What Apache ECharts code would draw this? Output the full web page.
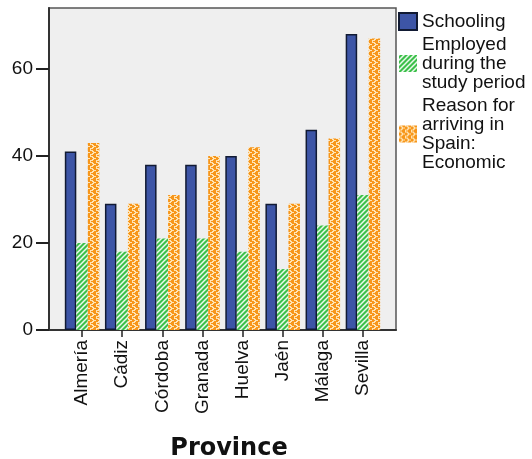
<!DOCTYPE html>
<html>
<head>
<meta charset="utf-8">
<script src="https://cdn.jsdelivr.net/npm/echarts@6/dist/echarts.min.js"></script>
<style>
  html, body { margin: 0; padding: 0; background: #ffffff; }
  #chart { width: 532px; height: 459px; }
</style>
</head>
<body>
<div id="chart"></div>
<script>
// Provinces on the category axis
var provinces = ['Almería', 'Cádiz', 'Córdoba', 'Granada', 'Huelva', 'Jaén', 'Málaga', 'Sevilla'];
// Series values
var schooling = [41, 29, 38, 38, 40, 29, 46, 68];
var employed = [20, 18, 21, 21, 18, 14, 24, 31];
var economic = [43, 29, 31, 40, 42, 29, 44, 67];
// Value axis ticks
var yTicks = [0, 20, 40, 60];
var yMax = 74;

var seriesNames = [
  'Schooling',
  'Employed\nduring the\nstudy period',
  'Reason for\narriving in\nSpain:\nEconomic'
];

// Hatched green fill: white diagonal stripes
function stripePattern() {
  var s = 5;
  var c = document.createElement('canvas');
  c.width = s; c.height = s;
  var g = c.getContext('2d');
  g.fillStyle = '#3cc04a';
  g.fillRect(0, 0, s, s);
  g.strokeStyle = 'rgba(255,255,255,0.9)';
  g.lineWidth = 1.5;
  g.beginPath();
  g.moveTo(-1, s + 1); g.lineTo(s + 1, -1);
  g.moveTo(-1, 1); g.lineTo(1, -1);
  g.moveTo(s - 1, s + 1); g.lineTo(s + 1, s - 1);
  g.stroke();
  return c;
}

// Orange fill with a light zigzag motif
function zigzagPattern() {
  var c = document.createElement('canvas');
  c.width = 6; c.height = 6;
  var g = c.getContext('2d');
  g.fillStyle = '#f7961a';
  g.fillRect(0, 0, 6, 6);
  g.fillStyle = 'rgba(255,232,190,0.95)';
  g.fillRect(0, 0, 3, 1);
  g.fillRect(2, 1, 2, 1);
  g.fillRect(3, 2, 3, 1);
  g.fillRect(2, 3, 2, 1);
  g.fillRect(0, 4, 3, 1);
  g.fillRect(0, 5, 1, 1);
  return c;
}

var font = 'Liberation Sans, Arial, sans-serif';
var chart = echarts.init(document.getElementById('chart'), null, { renderer: 'canvas' });

chart.setOption({
  animation: false,
  backgroundColor: '#ffffff',
  title: {
    text: 'Province',
    left: 224,
    top: 432,
    textAlign: 'center',
    textStyle: { fontFamily: 'DejaVu Sans', fontWeight: 'bold', fontSize: 24, color: '#111' }
  },
  legend: {
    orient: 'vertical',
    left: 398,
    top: 12,
    padding: 0,
    itemWidth: 18,
    itemHeight: 17,
    itemGap: 4,
    icon: 'rect',
    textStyle: { fontFamily: font, fontSize: 19, color: '#111', lineHeight: 19 },
    data: seriesNames
  },
  grid: [
    // frame with grey plot background
    { left: 49, right: 136, top: 8, bottom: 129, show: true, backgroundColor: '#efefef', borderColor: '#555', borderWidth: 1.5 },
    // inner band where the bar groups sit
    { left: 62, right: 149, top: 8, bottom: 129 }
  ],
  xAxis: [
    {
      gridIndex: 0, type: 'value', min: 0, max: 1,
      axisLine: { show: true, onZero: false, lineStyle: { color: '#333', width: 2 } },
      axisTick: { show: false }, axisLabel: { show: false }, splitLine: { show: false }
    },
    {
      gridIndex: 1, type: 'category', data: provinces,
      axisLine: { show: false },
      axisTick: { show: true, alignWithLabel: true, length: 7, lineStyle: { color: '#222', width: 1.5 } },
      axisLabel: { rotate: 90, margin: 10, fontFamily: font, fontSize: 19, color: '#111', interval: 0 }
    }
  ],
  yAxis: [
    {
      gridIndex: 0, type: 'value', min: 0, max: yMax,
      axisLine: { show: true, lineStyle: { color: '#333', width: 2 } },
      axisTick: { show: true, length: 13, customValues: yTicks, lineStyle: { color: '#222', width: 2 } },
      axisLabel: { margin: 16, customValues: yTicks, fontFamily: font, fontSize: 19, color: '#111' },
      splitLine: { show: false }
    },
    {
      gridIndex: 1, type: 'value', min: 0, max: yMax, show: false, splitLine: { show: false }
    }
  ],
  series: [
    {
      name: seriesNames[0], type: 'bar', xAxisIndex: 1, yAxisIndex: 1,
      data: schooling, barGap: '0%', barCategoryGap: '14%',
      itemStyle: { color: '#3d55a6', borderColor: '#111a33', borderWidth: 1.5 }
    },
    {
      name: seriesNames[1], type: 'bar', xAxisIndex: 1, yAxisIndex: 1,
      data: employed, barGap: '0%', barCategoryGap: '14%',
      itemStyle: { color: { image: stripePattern(), repeat: 'repeat' } }
    },
    {
      name: seriesNames[2], type: 'bar', xAxisIndex: 1, yAxisIndex: 1,
      data: economic, barGap: '0%', barCategoryGap: '14%',
      itemStyle: { color: { image: zigzagPattern(), repeat: 'repeat' } }
    }
  ]
});
</script>
</body>
</html>
